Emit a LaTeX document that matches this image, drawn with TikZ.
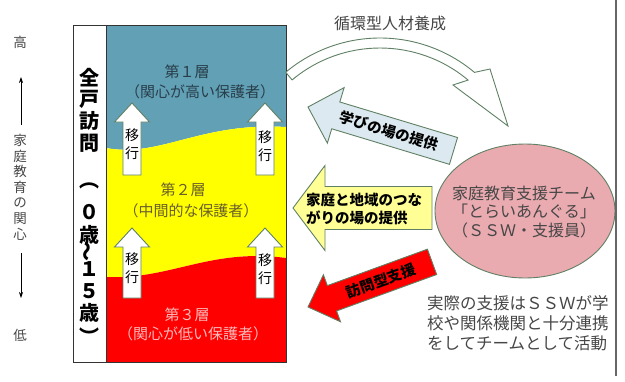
\documentclass[tikz,border=0pt]{standalone}
\usepackage{fontspec}
\setmainfont{Noto Sans CJK JP}
\usetikzlibrary{arrows.meta,shapes.geometric}

\definecolor{layerblue}{RGB}{98,160,181}
\definecolor{layeryellow}{RGB}{255,255,0}
\definecolor{layerred}{RGB}{255,0,0}
\definecolor{outlinegreen}{RGB}{96,128,100}
\definecolor{teampink}{RGB}{233,170,176}
\definecolor{learnblue}{RGB}{220,233,240}
\definecolor{linkyellow}{RGB}{255,255,150}
\definecolor{tieronetext}{RGB}{40,62,74}
\definecolor{tiertwotext}{RGB}{105,95,40}
\definecolor{tierthreetext}{RGB}{255,185,185}
\definecolor{greytext}{RGB}{70,70,70}

\newcommand\blockarrow[7]{
  \begin{scope}[shift={#2}, rotate=#3]
    \draw[#1] (0,0) -- (#7,#6) -- (#7,#5) -- (#4,#5) -- (#4,-#5) -- (#7,-#5) -- (#7,-#6) -- cycle ;
  \end{scope}
}

\tikzset{
  frame/.style={draw=black!80, line width=1pt},
  shiftarrow/.style={fill=white, draw=outlinegreen, line width=0.9pt},
  shifttext/.style={align=center, inner sep=0pt, font=\fontsize{14}{17.5}\selectfont},
  columntext/.style={align=center, inner sep=0pt, font=\fontsize{20}{21.7}\selectfont\bfseries},
  layertext/.style={inner sep=0pt, font=\fontsize{15}{18}\selectfont},
  axistext/.style={align=center, inner sep=0pt, text=greytext, font=\fontsize{13.5}{15.6}\selectfont},
  axisarrow/.style={-{Stealth[length=6pt,width=4pt]}, line width=0.7pt},
  arrowtext/.style={inner sep=0pt, font=\fontsize{14.5}{18}\selectfont\bfseries},
  bodytext/.style={inner sep=0pt, text=greytext, font=\fontsize{16}{18.5}\selectfont},
}

\begin{document}
\begin{tikzpicture}[x=1pt, y=-1pt]
  \useasboundingbox (0,0) rectangle (625,381);

  \fill[layerblue] (106,25) -- (286,25) -- (286,127) .. controls (200,122) and (160,158) .. (106,148) -- cycle ;
  \fill[layeryellow] (106,148) .. controls (160,158) and (200,122) .. (286,127) -- (286,258)
    .. controls (210,248) and (170,280) .. (106,277) -- cycle ;
  \fill[layerred] (106,277) .. controls (170,280) and (210,248) .. (286,258) -- (286,362) -- (106,362) -- cycle ;
  \draw[frame] (73,25) rectangle (286,362) ;
  \draw[frame] (106,25) -- (106,362) ;

  \node[columntext] (visitall) at (89.5,110) {全\\戸\\訪\\問};
  \foreach \ch/\yy [count=\i] in {︵/186, ０/212, 歳/235, {\rotatebox[origin=c]{90}{～}}/251, １/269, ５/291, 歳/313, ︶/336}
    \node[columntext] (age\i) at (89.5,\yy) {\ch};

  \blockarrow{shiftarrow}{(132,103)}{-90}{72}{9}{17.5}{19}
  \blockarrow{shiftarrow}{(265,103)}{-90}{72}{9}{17.5}{19}
  \blockarrow{shiftarrow}{(132,228)}{-90}{70}{9}{17.5}{19}
  \blockarrow{shiftarrow}{(265,228)}{-90}{70}{9}{17.5}{19}
  \node[shifttext] (shift1) at (132,144) {移\\行};
  \node[shifttext] (shift2) at (265,146) {移\\行};
  \node[shifttext] (shift3) at (132,268) {移\\行};
  \node[shifttext] (shift4) at (265,269) {移\\行};

  \node[layertext, text=tieronetext] (tier1) at (187,72) {第１層};
  \node[layertext, text=tieronetext] (tier1sub) at (200,92) {（関心が高い保護者）};
  \node[layertext, text=tiertwotext] (tier2) at (183,190) {第２層};
  \node[layertext, text=tiertwotext] (tier2sub) at (191,211) {（中間的な保護者）};
  \node[layertext, text=tierthreetext] (tier3) at (187,315) {第３層};
  \node[layertext, text=tierthreetext] (tier3sub) at (193,334) {（関心が低い保護者）};

  \node[axistext] (high) at (20,42) {高};
  \node[axistext] (interest) at (20,187) {家\\庭\\教\\育\\の\\関\\心};
  \node[axistext] (low) at (20,335) {低};
  \coordinate (upfoot) at (21,125);
  \coordinate (uptip) at (21,77);
  \coordinate (downfoot) at (21,253);
  \coordinate (downtip) at (21,298);
  \draw[axisarrow] (upfoot) -- (uptip) ;
  \draw[axisarrow] (downfoot) -- (downtip) ;

  \node[bodytext] (cycle) at (390,23) {循環型人材養成};
  \begin{scope}[shift={(380,185)}]
    \draw[fill=white, draw=outlinegreen, line width=0.9pt] (230.1:147) arc[start angle=230.1, end angle=310, radius=147]
      -- (110,-116) -- (128,-59) -- (73,-100) -- (310:137) arc[start angle=310, end angle=230.1, radius=137] -- cycle ;
  \end{scope}

  \blockarrow{fill=learnblue, draw=outlinegreen, line width=0.9pt}{(308,107)}{-16.8}{152}{14}{29}{29}
  \blockarrow{fill=linkyellow, draw=outlinegreen, line width=0.9pt}{(293,208)}{0}{139}{21.5}{42.5}{32}
  \blockarrow{fill=layerred, draw=outlinegreen, line width=0.9pt}{(308,307)}{20}{132}{13.5}{25}{25.5}
  \node[arrowtext, rotate=-16.8] (learn) at (389,131) {学びの場の提供};
  \node[arrowtext, align=left, anchor=west] (link) at (306,209) {家庭と地域のつな\\がりの場の提供};
  \node[arrowtext, rotate=20] (visit) at (381,281) {訪問型支援};

  \node[ellipse, fill=teampink, draw=outlinegreen, line width=0.9pt, minimum width=180, minimum height=134] (teamshape) at (525,211) {};
  \node[bodytext, align=center] (team) at (524,212) {家庭教育支援チーム\\「とらいあんぐる」\\（ＳＳＷ・支援員）};
  \node[bodytext, align=left, anchor=west, font=\fontsize{16.5}{20}\selectfont] (note) at (427,323)
    {実際の支援はＳＳＷが学\\校や関係機関と十分連携\\をしてチームとして活動};

  \draw[black!60, line width=1.2pt] (616,0) -- (616,376) ;
\end{tikzpicture}
\end{document}
